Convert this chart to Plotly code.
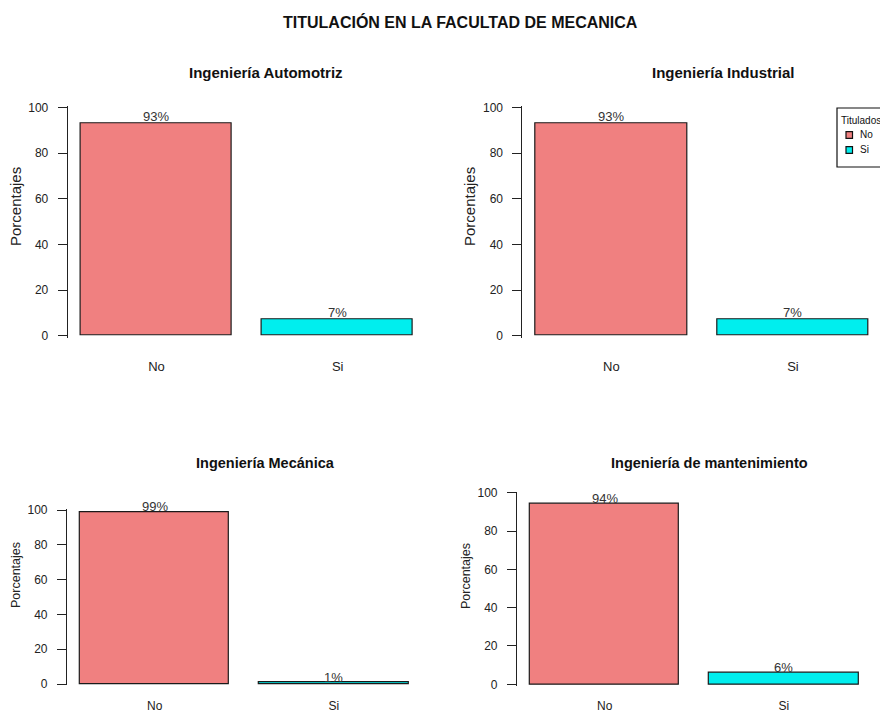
import plotly.graph_objects as go

# ---- data ----
titulo = "TITULACIÓN EN LA FACULTAD DE MECANICA"
programas = ["Ingeniería Automotriz", "Ingeniería Industrial",
             "Ingeniería Mecánica", "Ingeniería de mantenimiento"]
categorias = ["No", "Si"]
pct_no = [93, 93, 99, 94]
pct_si = [7, 7, 1, 6]
y_ticks = [0, 20, 40, 60, 80, 100]
eje_y = "Porcentajes"
leyenda_titulo = "Titulados"

COL_NO = "#F08080"
COL_SI = "#00EEEE"
W, H = 880, 713
SANS = "Liberation Sans, Arial, sans-serif"
TXT = "#222222"

# panel geometry in pixels: left edge, px per x-unit, right edge, y of 0, y of 100,
# title centre, y-label centre, category label centre
panels = [
    dict(left=67.7, unit=151.0, right=426.5, y0=335.7, y100=107.5, tx=266, ty=72, tsize=15,
         lx=16, ly=207, lsize=15, cy=364, csize=13),
    dict(left=522.4, unit=151.3, right=880.0, y0=335.7, y100=107.5, tx=723, ty=72, tsize=15,
         lx=470, ly=207, lsize=15, cy=364, csize=13),
    dict(left=66.9, unit=149.3, right=421.6, y0=684.0, y100=510.0, tx=265, ty=463, tsize=14.5,
         lx=16, ly=575, lsize=12.5, cy=704, csize=12),
    dict(left=516.9, unit=149.3, right=871.6, y0=684.3, y100=492.7, tx=709, ty=463, tsize=14.5,
         lx=466, ly=576, lsize=12.5, cy=704, csize=12),
]

fig = go.Figure()
bar_x = [0.7 + 1.2 * i for i in range(len(categorias))]
annotations = []
layout_axes = {}
ylo, yhi = -0.8, 100.5

for i, p in enumerate(panels):
    k = "" if i == 0 else str(i + 1)
    vals = [pct_no[i], pct_si[i]]
    u = (p["y0"] - p["y100"]) / 100.0
    fig.add_trace(go.Bar(
        x=bar_x, y=vals, width=1.0,
        marker=dict(color=[COL_NO, COL_SI], line=dict(color="#1a1a1a", width=1.2)),
        xaxis="x" + k, yaxis="y" + k, showlegend=False, hoverinfo="x+y"))
    # percentage labels just above each bar top (anchored at the bar value)
    for xv, v in zip(bar_x, vals):
        annotations.append(dict(
            text=f"{v}%", x=xv, y=v, xref="x" + k, yref="y" + k, yshift=3 * u,
            showarrow=False, xanchor="center", yanchor="middle",
            font=dict(family=SANS, size=13, color="#333333")))

    bot = p["y0"] - ylo * u
    top = p["y100"] - (yhi - 100) * u
    xr = [0.112, 0.112 + (p["right"] - p["left"]) / p["unit"]]
    layout_axes["xaxis" + k] = dict(
        domain=[p["left"] / W, min(p["right"] / W, 1.0)], range=xr,
        anchor="y" + k, showline=False, showgrid=False, zeroline=False, automargin=False,
        ticks="", tickvals=bar_x, ticktext=categorias,
        ticklabelstandoff=max(0, int(round(p["cy"] - bot - 7))),
        tickfont=dict(family=SANS, size=p["csize"], color=TXT), fixedrange=True)
    layout_axes["yaxis" + k] = dict(
        domain=[1 - bot / H, 1 - top / H], range=[ylo, yhi],
        anchor="x" + k, showline=True, linecolor="#222222", linewidth=1, automargin=False,
        ticks="outside", ticklen=9, tickcolor="#222222", tickwidth=1,
        tickvals=y_ticks, ticklabelstandoff=7,
        tickfont=dict(family=SANS, size=12, color=TXT),
        showgrid=False, zeroline=False, fixedrange=True)
    annotations.append(dict(
        text="<b>" + programas[i] + "</b>", x=p["tx"] / W, y=1 - p["ty"] / H,
        xref="paper", yref="paper", showarrow=False, xanchor="center", yanchor="middle",
        font=dict(family=SANS, size=p["tsize"], color="#111111")))
    annotations.append(dict(
        text=eje_y, x=p["lx"] / W, y=1 - p["ly"] / H, textangle=-90,
        xref="paper", yref="paper", showarrow=False, xanchor="center", yanchor="middle",
        font=dict(family=SANS, size=p["lsize"], color=TXT)))

# main title
annotations.append(dict(
    text="<b>" + titulo + "</b>", x=460 / W, y=1 - 22 / H, xref="paper", yref="paper",
    showarrow=False, xanchor="center", yanchor="middle",
    font=dict(family=SANS, size=16, color="#111111")))

# legend box (as in the original R legend placed in the second panel)
shapes = [dict(type="rect", xref="paper", yref="paper",
               x0=837 / W, x1=886 / W, y0=1 - 167 / H, y1=1 - 108 / H,
               line=dict(color="#111111", width=1.2), fillcolor="white")]
annotations.append(dict(text=leyenda_titulo, x=838.5 / W, y=1 - 120 / H, xref="paper", yref="paper",
                        showarrow=False, xanchor="left", yanchor="middle",
                        font=dict(family=SANS, size=10, color="#111111")))
for j, (cat, col) in enumerate(zip(categorias, [COL_NO, COL_SI])):
    yc = 135 + 15 * j
    shapes.append(dict(type="rect", xref="paper", yref="paper",
                       x0=846 / W, x1=852.5 / W, y0=1 - (yc + 3.3) / H, y1=1 - (yc - 3.3) / H,
                       line=dict(color="#111111", width=1.2), fillcolor=col))
    annotations.append(dict(text=cat, x=857.5 / W, y=1 - yc / H, xref="paper", yref="paper",
                            showarrow=False, xanchor="left", yanchor="middle",
                            font=dict(family=SANS, size=10, color="#111111")))

fig.update_layout(
    width=W, height=H, margin=dict(l=0, r=0, t=0, b=0, pad=0), autosize=False,
    paper_bgcolor="white", plot_bgcolor="white",
    showlegend=False, annotations=annotations, shapes=shapes,
    bargap=0, **layout_axes)

fig.write_html(
    "out.html", config={"displayModeBar": False, "responsive": False},
    post_script="document.body.style.margin='0px';document.body.style.overflow='hidden';")
